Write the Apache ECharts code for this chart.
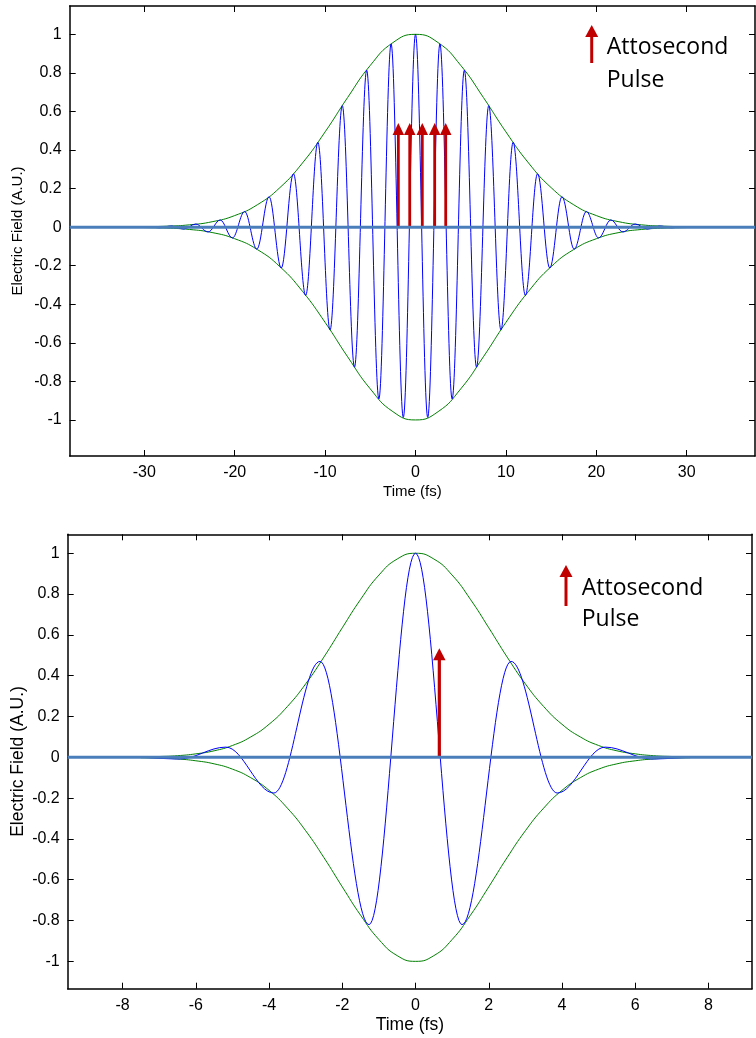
<!DOCTYPE html>
<html>
<head>
<meta charset="utf-8">
<script src="https://cdn.jsdelivr.net/npm/echarts@6/dist/echarts.min.js"></script>
<style>
html,body{margin:0;padding:0;background:#fff;}
#chart{width:756px;height:1038px;}
</style>
</head>
<body>
<div id="chart"></div>
<script>
// ---------- data ----------
// Top panel: carrier extrema (time fs, field)
const topWaveT = [-30.5, -29.7, -28.35, -27.0, -25.65, -24.3, -22.95, -21.6, -20.25, -18.9, -17.55, -16.2, -14.85, -13.5, -12.15, -10.8, -9.45, -8.1, -6.75, -5.4, -4.05, -2.7, -1.35, 0, 1.35, 2.7, 4.05, 5.4, 6.75, 8.1, 9.45, 10.8, 12.15, 13.5, 14.85, 16.2, 17.55, 18.9, 20.25, 21.6, 22.95, 24.3, 25.65, 27.0, 28.35, 29.7, 30.5];
const topWaveV = [0, 0.002, -0.0035, 0.006, -0.010, 0.016, -0.025, 0.037, -0.056, 0.081, -0.114, 0.158, -0.212, 0.277, -0.354, 0.440, -0.533, 0.630, -0.726, 0.814, -0.891, 0.950, -0.987, 1, -0.987, 0.950, -0.891, 0.814, -0.726, 0.630, -0.533, 0.440, -0.354, 0.277, -0.212, 0.158, -0.114, 0.081, -0.056, 0.037, -0.025, 0.016, -0.010, 0.006, -0.0035, 0.002, 0];
// Top panel: envelope
const topEnvT = [-30.5, -30, -27.5, -25, -22.5, -20, -17.5, -15, -12.5, -10, -7.5, -5, -2.5, 0, 2.5, 5, 7.5, 10, 12.5, 15, 17.5, 20, 22.5, 25, 27.5, 30, 30.5];
const topEnvUpper = [0.0015, 0.002, 0.005, 0.012, 0.028, 0.060, 0.116, 0.205, 0.333, 0.494, 0.673, 0.839, 0.957, 1, 0.957, 0.839, 0.673, 0.494, 0.333, 0.205, 0.116, 0.060, 0.028, 0.012, 0.005, 0.002, 0.0015];
const topEnvLower = [-0.0015, -0.002, -0.005, -0.012, -0.028, -0.060, -0.116, -0.205, -0.333, -0.494, -0.673, -0.839, -0.957, -1, -0.957, -0.839, -0.673, -0.494, -0.333, -0.205, -0.116, -0.060, -0.028, -0.012, -0.005, -0.002, -0.0015];
// Top panel: attosecond pulse positions and heights
const topPulseT = [-1.9, -0.64, 0.75, 2.12, 3.34];
const topPulseH = [0.54, 0.54, 0.54, 0.54, 0.54];

// Bottom panel: carrier extrema
const botWaveT = [-7.45, -6.45, -5.18, -3.87, -2.61, -1.27, 0, 1.27, 2.61, 3.87, 5.18, 6.45, 7.45];
const botWaveV = [0, -0.008, 0.05, -0.175, 0.47, -0.82, 1, -0.82, 0.47, -0.175, 0.05, -0.008, 0];
// Bottom panel: envelope
const botEnvT = [-7.5, -7, -6.5, -6, -5.5, -5, -4.5, -4, -3.5, -3, -2.5, -2, -1.5, -1, -0.5, 0, 0.5, 1, 1.5, 2, 2.5, 3, 3.5, 4, 4.5, 5, 5.5, 6, 6.5, 7, 7.5];
const botEnvUpper = [0.002, 0.004, 0.008, 0.017, 0.032, 0.058, 0.100, 0.162, 0.249, 0.360, 0.492, 0.635, 0.774, 0.893, 0.972, 1, 0.972, 0.893, 0.774, 0.635, 0.492, 0.360, 0.249, 0.162, 0.100, 0.058, 0.032, 0.017, 0.008, 0.004, 0.002];
const botEnvLower = [-0.002, -0.004, -0.008, -0.017, -0.032, -0.058, -0.100, -0.162, -0.249, -0.360, -0.492, -0.635, -0.774, -0.893, -0.972, -1, -0.972, -0.893, -0.774, -0.635, -0.492, -0.360, -0.249, -0.162, -0.100, -0.058, -0.032, -0.017, -0.008, -0.004, -0.002];
const botPulseT = [0.65];
const botPulseH = [0.535];

// Tick values
const topXTicks = [-30, -20, -10, 0, 10, 20, 30];
const botXTicks = [-8, -6, -4, -2, 0, 2, 4, 6, 8];
const yTicks = [-1, -0.8, -0.6, -0.4, -0.2, 0, 0.2, 0.4, 0.6, 0.8, 1];

const xTitle = 'Time (fs)';
const yTitle = 'Electric Field (A.U.)';

// ---------- chart ----------
const FONT = '"Liberation Sans", Arial, sans-serif';
const BLUE = '#0000FF', GREEN = '#008000', BASE = '#4A7EBB', RED = '#C00000';

const zip = (a, b) => a.map((v, i) => [v, b[i]]);
const fmt = v => String(+(+v).toFixed(2));

function xAxes(gi, min, max, ticks, nameSize, nameGap) {
  return [
    { type: 'value', gridIndex: gi, min, max, position: 'bottom',
      name: xTitle, nameLocation: 'middle', nameGap: nameGap, nameMoveOverlap: false,
      nameTextStyle: { fontFamily: FONT, fontSize: nameSize, color: '#000' },
      axisLine: { show: true, onZero: false, lineStyle: { color: '#000', width: 1.5 } },
      axisTick: { show: true, inside: true, length: 6, customValues: ticks, lineStyle: { color: '#000', width: 1 } },
      axisLabel: { show: true, customValues: ticks, formatter: fmt, margin: 9, fontFamily: FONT, fontSize: 16, color: '#000' },
      splitLine: { show: false } },
    { type: 'value', gridIndex: gi, min, max, position: 'top',
      axisLine: { show: true, onZero: false, lineStyle: { color: '#000', width: 1.5 } },
      axisTick: { show: true, inside: true, length: 6, customValues: ticks, lineStyle: { color: '#000', width: 1 } },
      axisLabel: { show: false },
      splitLine: { show: false } }
  ];
}
function yAxes(gi, min, max, nameSize, nameGap) {
  return [
    { type: 'value', gridIndex: gi, min, max, position: 'left',
      name: yTitle, nameLocation: 'middle', nameGap: nameGap, nameMoveOverlap: false,
      nameTextStyle: { fontFamily: FONT, fontSize: nameSize, color: '#000' },
      axisLine: { show: true, onZero: false, lineStyle: { color: '#000', width: 1.5 } },
      axisTick: { show: true, inside: true, length: 6, customValues: yTicks, lineStyle: { color: '#000', width: 1 } },
      axisLabel: { show: true, customValues: yTicks, formatter: fmt, margin: 8, fontFamily: FONT, fontSize: 16, color: '#000' },
      splitLine: { show: false } },
    { type: 'value', gridIndex: gi, min, max, position: 'right',
      axisLine: { show: true, onZero: false, lineStyle: { color: '#000', width: 1.5 } },
      axisTick: { show: true, inside: true, length: 6, customValues: yTicks, lineStyle: { color: '#000', width: 1 } },
      axisLabel: { show: false },
      splitLine: { show: false } }
  ];
}

function lineSeries(xi, yi, data, color, width, smooth, mono, z) {
  return { type: 'line', xAxisIndex: xi, yAxisIndex: yi, data, showSymbol: false, symbol: 'none',
    smooth, smoothMonotone: mono, lineStyle: { color, width }, z, silent: true, animation: false };
}
function pulseSeries(xi, yi, data, headW, headH, shaftW) {
  return { type: 'custom', xAxisIndex: xi, yAxisIndex: yi, data, z: 4, silent: true, animation: false,
    encode: { x: 0, y: 1 },
    renderItem: (params, api) => {
      const base = api.coord([api.value(0), 0]);
      const tip = api.coord([api.value(0), api.value(1)]);
      return { type: 'group', children: [
        { type: 'rect', shape: { x: base[0] - shaftW / 2, y: tip[1] + headH - 1, width: shaftW, height: base[1] - tip[1] - headH + 1 }, style: { fill: RED } },
        { type: 'polygon', shape: { points: [[tip[0], tip[1]], [tip[0] - headW / 2, tip[1] + headH], [tip[0] + headW / 2, tip[1] + headH]] }, style: { fill: RED } }
      ] };
    } };
}

const topX = [-38.25, 37.55], topY = [-1.187, 1.147];
const botX = [-9.5, 9.19], botY = [-1.134, 1.093];

const LEG_FONT = '23px "Open Sans", sans-serif';
function legendGraphic(ax, tipY, botY, tx, ty1, ty2) {
  return [
    { type: 'rect', shape: { x: ax - 1.5, y: tipY + 10, width: 3, height: botY - tipY - 10 }, style: { fill: RED } },
    { type: 'polygon', shape: { points: [[ax, tipY], [ax - 6.5, tipY + 12], [ax + 6.5, tipY + 12]] }, style: { fill: RED } },
    { type: 'text', x: tx, y: ty1, style: { text: 'Attosecond', font: LEG_FONT, fill: '#000', textVerticalAlign: 'middle' } },
    { type: 'text', x: tx, y: ty2, style: { text: 'Pulse', font: LEG_FONT, fill: '#000', textVerticalAlign: 'middle' } }
  ];
}

const option = {
  animation: false,
  backgroundColor: '#fff',
  grid: [
    { left: 69.7, top: 6, width: 685.3, height: 450, containLabel: false, outerBoundsMode: 'none' },
    { left: 67.7, top: 534.3, width: 684.3, height: 454.4, containLabel: false, outerBoundsMode: 'none' }
  ],
  xAxis: [...xAxes(0, topX[0], topX[1], topXTicks, 15, 28.5), ...xAxes(1, botX[0], botX[1], botXTicks, 17.5, 27.5)],
  yAxis: [...yAxes(0, topY[0], topY[1], 15, 44), ...yAxes(1, botY[0], botY[1], 17.5, 41)],
  series: [
    lineSeries(0, 0, zip(topEnvT, topEnvUpper), GREEN, 1, 0.5, null, 2),
    lineSeries(0, 0, zip(topEnvT, topEnvLower), GREEN, 1, 0.5, null, 2),
    lineSeries(0, 0, zip(topWaveT, topWaveV), BLUE, 1, 0.36, 'x', 3),
    pulseSeries(0, 0, zip(topPulseT, topPulseH), 11.5, 12, 2.8),
    lineSeries(0, 0, [[topX[0], 0], [topX[1], 0]], BASE, 3, false, null, 5),

    lineSeries(2, 2, zip(botEnvT, botEnvUpper), GREEN, 1, 0.5, null, 2),
    lineSeries(2, 2, zip(botEnvT, botEnvLower), GREEN, 1, 0.5, null, 2),
    lineSeries(2, 2, zip(botWaveT, botWaveV), BLUE, 1, 0.36, 'x', 3),
    pulseSeries(2, 2, zip(botPulseT, botPulseH), 12.5, 12, 3.2),
    lineSeries(2, 2, [[botX[0], 0], [botX[1], 0]], BASE, 3, false, null, 5)
  ],
  graphic: [
    ...legendGraphic(591.7, 25, 63, 606.7, 47, 80),
    ...legendGraphic(566, 565, 606, 581.7, 588, 619)
  ]
};

const chart = echarts.init(document.getElementById('chart'), null, { renderer: 'canvas' });
chart.setOption(option);
</script>
</body>
</html>
